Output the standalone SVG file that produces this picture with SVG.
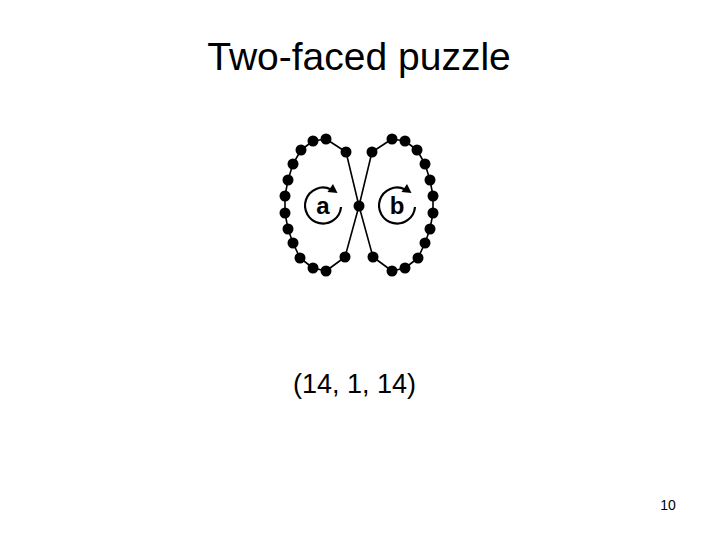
<svg xmlns="http://www.w3.org/2000/svg" width="720" height="540" viewBox="0 0 720 540">
<style>
.t{font-family:"Liberation Sans",Arial,sans-serif;fill:#000}
.dot{fill:#000}
.loop{fill:none;stroke:#000;stroke-width:1.6;stroke-linejoin:round}
.rot{fill:none;stroke:#000;stroke-width:2.2}
.head{fill:#000}
.lbl{font-family:"Liberation Sans",Arial,sans-serif;font-weight:bold;font-size:24px;text-anchor:middle;fill:#000}
</style>
<rect width="720" height="540" fill="#fff"/>
<text class="t" x="359" y="70" font-size="39" text-anchor="middle">Two-faced puzzle</text>
<g id="connectors">
<polyline class="loop" points="359,206 346,152 326,139 313,141 301,150 293,164 288,180 285,196 285,213 288,229 293,243 300,258 313,268 326,271 345,257 359,206"/>
<polyline class="loop" points="359,206 372,152 392,139 405,141 417,150 425,164 430,180 433,196 433,213 430,229 425,243 418,258 405,268 392,271 373,257 359,206"/>
</g>
<g id="loop-a">
<g class="dot">
<circle cx="346" cy="152" r="5.5"/><circle cx="326" cy="139" r="5.5"/><circle cx="313" cy="141" r="5.5"/><circle cx="301" cy="150" r="5.5"/><circle cx="293" cy="164" r="5.5"/><circle cx="288" cy="180" r="5.5"/><circle cx="285" cy="196" r="5.5"/><circle cx="285" cy="213" r="5.5"/><circle cx="288" cy="229" r="5.5"/><circle cx="293" cy="243" r="5.5"/><circle cx="300" cy="258" r="5.5"/><circle cx="313" cy="268" r="5.5"/><circle cx="326" cy="271" r="5.5"/><circle cx="345" cy="257" r="5.5"/>
</g>
<path class="rot" d="M341,207 A18,18 0 1 1 331,189.4"/>
<polygon class="head" points="337.5,193 333,184 327.5,192"/>
<text class="lbl" x="323" y="214">a</text>
</g>
<g id="center">
<circle class="dot" cx="359" cy="206" r="5.5"/>
</g>
<g id="loop-b">
<g class="dot">
<circle cx="372" cy="152" r="5.5"/><circle cx="392" cy="139" r="5.5"/><circle cx="405" cy="141" r="5.5"/><circle cx="417" cy="150" r="5.5"/><circle cx="425" cy="164" r="5.5"/><circle cx="430" cy="180" r="5.5"/><circle cx="433" cy="196" r="5.5"/><circle cx="433" cy="213" r="5.5"/><circle cx="430" cy="229" r="5.5"/><circle cx="425" cy="243" r="5.5"/><circle cx="418" cy="258" r="5.5"/><circle cx="405" cy="268" r="5.5"/><circle cx="392" cy="271" r="5.5"/><circle cx="373" cy="257" r="5.5"/>
</g>
<path class="rot" d="M415,207 A18,18 0 1 1 405,189.4"/>
<polygon class="head" points="411.5,193 407,184 401.5,192"/>
<text class="lbl" x="397" y="214">b</text>
</g>
<text class="t" x="293" y="393" font-size="27">(14, 1, 14)</text>
<text class="t" x="668" y="510" font-size="14" text-anchor="middle">10</text>
</svg>
